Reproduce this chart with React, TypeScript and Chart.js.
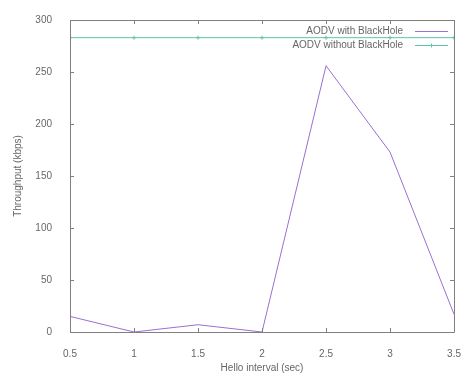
import React, { useEffect, useRef } from "react";
import { Chart, registerables } from "chart.js";

Chart.register(...registerables);

const helloInterval = [0.5, 1, 1.5, 2, 2.5, 3, 3.5];
const withBlackHole = [15, 0, 7, 0, 256, 173, 17];
const withoutBlackHole = [283, 283, 283, 283, 283, 283, 283];
const xTicks = [0.5, 1, 1.5, 2, 2.5, 3, 3.5];
const yTicks = [0, 50, 100, 150, 200, 250, 300];
const seriesNames = ["AODV with BlackHole", "AODV without BlackHole"];
const seriesColors = ["#9a70d0", "#5cc4a8"];

const FONT = "Liberation Sans, Arial, sans-serif";
const TEXT = "#666";

const framePlugin = {
  id: "gnuFrame",
  afterDatasetsDraw(chart: any) {
    const { ctx, chartArea: a, scales } = chart;
    const xs = scales.x;
    const ys = scales.y;
    ctx.save();
    ctx.strokeStyle = "#808080";
    ctx.lineWidth = 1;
    ctx.beginPath();
    ctx.rect(Math.round(a.left) + 0.5, Math.round(a.top) + 0.5, Math.round(a.right - a.left), Math.round(a.bottom - a.top));
    ctx.stroke();
    const tl = 4;
    ctx.beginPath();
    xTicks.forEach((v) => {
      const px = Math.round(xs.getPixelForValue(v)) + 0.5;
      ctx.moveTo(px, a.bottom);
      ctx.lineTo(px, a.bottom - tl);
      ctx.moveTo(px, a.top);
      ctx.lineTo(px, a.top + tl);
    });
    yTicks.forEach((v) => {
      const py = Math.round(ys.getPixelForValue(v)) + 0.5;
      ctx.moveTo(a.left, py);
      ctx.lineTo(a.left + tl, py);
      ctx.moveTo(a.right, py);
      ctx.lineTo(a.right - tl, py);
    });
    ctx.stroke();

    // legend
    ctx.font = "10px " + FONT;
    ctx.fillStyle = TEXT;
    ctx.textAlign = "right";
    ctx.textBaseline = "middle";
    const rows = [31, 45];
    seriesNames.forEach((name, i) => {
      const y = rows[i];
      ctx.fillText(name, 403, y);
      ctx.strokeStyle = seriesColors[i];
      ctx.beginPath();
      ctx.moveTo(415, y + 0.5);
      ctx.lineTo(448, y + 0.5);
      ctx.stroke();
      if (i === 1) {
        ctx.beginPath();
        ctx.moveTo(431.5, y - 1.5);
        ctx.lineTo(431.5, y + 2.5);
        ctx.moveTo(429.5, y + 0.5);
        ctx.lineTo(433.5, y + 0.5);
        ctx.stroke();
      }
    });
    ctx.restore();
  },
};

export default function App() {
  const ref = useRef<HTMLCanvasElement>(null);
  useEffect(() => {
    document.body.style.margin = "0";
    const canvas = ref.current!;
    const chart = new Chart(canvas, {
      type: "line",
      data: {
        datasets: [
          {
            label: seriesNames[0],
            data: helloInterval.map((x, i) => ({ x, y: withBlackHole[i] })),
            borderColor: seriesColors[0],
            backgroundColor: seriesColors[0],
            borderWidth: 1,
            pointRadius: 0,
            tension: 0,
            clip: false as any,
          },
          {
            label: seriesNames[1],
            data: helloInterval.map((x, i) => ({ x, y: withoutBlackHole[i] })),
            borderColor: seriesColors[1],
            backgroundColor: seriesColors[1],
            borderWidth: 1,
            pointStyle: "cross",
            pointRadius: 2,
            pointBorderWidth: 1,
            tension: 0,
          },
        ],
      },
      options: {
        animation: false,
        responsive: false,
        layout: { padding: { top: 20, right: 7, left: 0, bottom: 0 } },
        plugins: { legend: { display: false }, tooltip: { enabled: false } },
        scales: {
          x: {
            type: "linear",
            min: 0.5,
            max: 3.5,
            afterBuildTicks: (s: any) => {
              s.ticks = xTicks.map((v) => ({ value: v }));
            },
            afterFit: (s: any) => {
              s.height = 46;
            },
            grid: { display: false },
            border: { display: false },
            ticks: {
              color: TEXT,
              font: { family: FONT, size: 10 },
              padding: 8,
              maxRotation: 0,
              autoSkip: false,
              callback: (v: any) => String(v),
            },
            title: {
              display: true,
              text: "Hello interval (sec)",
              color: TEXT,
              font: { family: FONT, size: 10 },
              padding: { top: 2, bottom: 4 },
            },
          },
          y: {
            type: "linear",
            min: 0,
            max: 300,
            afterBuildTicks: (s: any) => {
              s.ticks = yTicks.map((v) => ({ value: v }));
            },
            afterFit: (s: any) => {
              s.width = 70;
            },
            grid: { display: false },
            border: { display: false },
            ticks: {
              color: TEXT,
              font: { family: FONT, size: 10 },
              padding: 10,
              callback: (v: any) => String(v),
            },
            title: {
              display: true,
              text: "Throughput (kbps)",
              color: TEXT,
              font: { family: FONT, size: 10 },
              padding: { top: 12, bottom: 0 },
            },
          },
        },
      },
      plugins: [framePlugin],
    } as any);
    return () => chart.destroy();
  }, []);
  return <canvas ref={ref} width={469} height={378} style={{ display: "block" }} />;
}
